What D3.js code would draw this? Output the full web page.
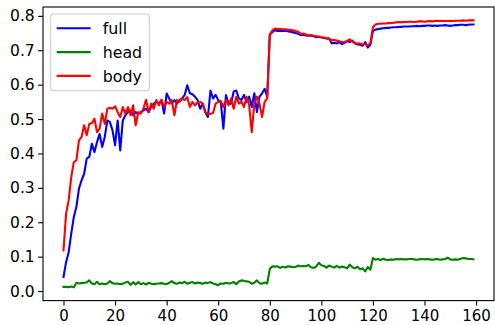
<!DOCTYPE html>
<html>
<head>
<meta charset="utf-8">
<script src="https://cdn.jsdelivr.net/npm/d3@7"></script>
<style>
    body { margin: 0; background: #fff; }
    text { font-family: "DejaVu Sans", sans-serif; }
</style>
</head>
<body>
<div id="chart"></div>
<script>
// series, one value per epoch (0..159)
var full = [
    0.041, 0.084, 0.113, 0.167, 0.215, 0.245, 0.298, 0.322, 0.341, 0.385,
    0.39, 0.428, 0.404, 0.433, 0.457, 0.419, 0.448, 0.496, 0.491, 0.467,
    0.424, 0.496, 0.409, 0.496, 0.511, 0.52, 0.525, 0.511, 0.52, 0.515,
    0.52, 0.525, 0.53, 0.52, 0.535, 0.545, 0.55, 0.545, 0.555, 0.516,
    0.574, 0.56, 0.545, 0.555, 0.545, 0.555, 0.56, 0.57, 0.598, 0.575,
    0.572, 0.565, 0.555, 0.53, 0.545, 0.52, 0.506, 0.583, 0.56, 0.57,
    0.555, 0.55, 0.472, 0.57, 0.545, 0.545, 0.58, 0.583, 0.56, 0.555,
    0.57, 0.55, 0.565, 0.535, 0.575, 0.52, 0.565, 0.575, 0.588, 0.565,
    0.745, 0.753, 0.758, 0.756, 0.757, 0.756, 0.757, 0.755, 0.754, 0.752,
    0.75, 0.748, 0.744, 0.745, 0.743, 0.742, 0.743, 0.741, 0.738, 0.739,
    0.737, 0.736, 0.734, 0.735, 0.72, 0.722, 0.72, 0.723, 0.718, 0.722,
    0.726, 0.724, 0.728, 0.72, 0.717, 0.716, 0.713, 0.724, 0.708, 0.716,
    0.756, 0.76, 0.762, 0.763, 0.764, 0.765, 0.765, 0.766, 0.767, 0.767,
    0.768, 0.768, 0.769, 0.769, 0.769, 0.77, 0.77, 0.771, 0.77, 0.771,
    0.771, 0.772, 0.772, 0.771, 0.772, 0.771, 0.772, 0.772, 0.773, 0.772,
    0.771, 0.772, 0.773, 0.773, 0.774, 0.774, 0.773, 0.774, 0.775, 0.775
];
var head = [
    0.012, 0.012, 0.011, 0.013, 0.011, 0.024, 0.022, 0.023, 0.024, 0.025,
    0.031, 0.022, 0.02, 0.027, 0.02, 0.022, 0.02, 0.022, 0.029, 0.023,
    0.021, 0.022, 0.02, 0.021, 0.025, 0.027, 0.018, 0.026, 0.019, 0.026,
    0.02, 0.023, 0.019, 0.024, 0.021, 0.02, 0.021, 0.022, 0.023, 0.021,
    0.02, 0.024, 0.029, 0.023, 0.021, 0.025, 0.023, 0.027, 0.021, 0.024,
    0.026, 0.022, 0.025, 0.023, 0.021, 0.025, 0.023, 0.026, 0.022, 0.02,
    0.017, 0.022, 0.021, 0.024, 0.022, 0.023, 0.026, 0.02, 0.028, 0.031,
    0.03, 0.028, 0.027, 0.021, 0.024, 0.031, 0.023, 0.021, 0.025, 0.022,
    0.064, 0.072, 0.071, 0.072, 0.067, 0.071, 0.068, 0.072, 0.071, 0.069,
    0.07, 0.074, 0.072, 0.073, 0.072, 0.076, 0.069, 0.067, 0.071, 0.082,
    0.075, 0.073, 0.068, 0.074, 0.071, 0.068, 0.073, 0.068, 0.071, 0.069,
    0.066, 0.077, 0.069, 0.066, 0.071, 0.063, 0.066, 0.057, 0.07, 0.062,
    0.096, 0.091, 0.093, 0.09, 0.094, 0.091, 0.09, 0.092, 0.091, 0.093,
    0.092, 0.093, 0.092, 0.092, 0.093, 0.093, 0.092, 0.091, 0.092, 0.093,
    0.092, 0.093, 0.092, 0.091, 0.092, 0.093, 0.091, 0.092, 0.093, 0.097,
    0.092, 0.091, 0.092, 0.091, 0.094, 0.096, 0.095, 0.093, 0.093, 0.092
];
var body = [
    0.118, 0.225, 0.264, 0.331, 0.375, 0.38, 0.438, 0.448, 0.482, 0.453,
    0.486, 0.488, 0.501, 0.462, 0.472, 0.516, 0.486, 0.53, 0.533, 0.53,
    0.537, 0.52, 0.506, 0.535, 0.516, 0.535, 0.511, 0.54, 0.482, 0.52,
    0.516, 0.53, 0.556, 0.52, 0.545, 0.53, 0.555, 0.54, 0.556, 0.535,
    0.55, 0.545, 0.555, 0.511, 0.555, 0.55, 0.56, 0.555, 0.564, 0.535,
    0.55, 0.54, 0.548, 0.55, 0.545, 0.52, 0.515, 0.515, 0.518, 0.545,
    0.55, 0.552, 0.535, 0.555, 0.54, 0.56, 0.53, 0.565, 0.545, 0.55,
    0.535, 0.565, 0.54, 0.462, 0.545, 0.565, 0.545, 0.506, 0.55, 0.56,
    0.745, 0.758, 0.763, 0.762, 0.762, 0.761, 0.761, 0.76, 0.759, 0.758,
    0.756, 0.754, 0.748, 0.749, 0.746, 0.743, 0.744, 0.742, 0.741, 0.74,
    0.738, 0.737, 0.735, 0.733, 0.729, 0.73, 0.728, 0.726, 0.724, 0.725,
    0.727, 0.732, 0.725, 0.722, 0.719, 0.72, 0.717, 0.718, 0.714, 0.72,
    0.767, 0.775, 0.777, 0.777, 0.778, 0.778, 0.779, 0.779, 0.78, 0.781,
    0.782, 0.781, 0.782, 0.782, 0.783, 0.783, 0.782, 0.783, 0.784, 0.784,
    0.783, 0.784, 0.785, 0.784, 0.785, 0.786, 0.785, 0.786, 0.785, 0.785,
    0.786, 0.785, 0.786, 0.786, 0.786, 0.787, 0.786, 0.787, 0.787, 0.787
];
var seriesNames = ["full", "head", "body"];
var xTicks = [0, 20, 40, 60, 80, 100, 120, 140, 160];
var yTicks = [0.0, 0.1, 0.2, 0.3, 0.4, 0.5, 0.6, 0.7, 0.8];

var colors = {"full": "#0000ff", "head": "#008000", "body": "#ff0000"};
var seriesData = {"full": full, "head": head, "body": body};

// dimensions and margins, matched to the reference
var W = 495, H = 325;
var margin = {top: 7, right: 1, bottom: 24.4, left: 43},
    width = W - margin.left - margin.right,
    height = H - margin.top - margin.bottom;

var svg = d3.select("#chart")
    .append("svg")
    .attr("width", W)
    .attr("height", H)
    .append("g")
    .attr("transform", "translate(" + margin.left + "," + margin.top + ")");

// matplotlib-like 5% padding around the data
var n = full.length;
var xPad = (n - 1) * 0.05;
var x = d3.scaleLinear().domain([-xPad, n - 1 + xPad]).range([0, width]);

var allVals = full.concat(head, body);
var yMin = d3.min(allVals), yMax = d3.max(allVals);
var yPad = (yMax - yMin) * 0.05;
var y = d3.scaleLinear().domain([yMin - yPad, yMax + yPad]).range([height, 0]);

// axes
var xAxis = d3.axisBottom(x).tickValues(xTicks).tickSize(4.9).tickPadding(4.6)
    .tickFormat(d3.format("d"));
var yAxis = d3.axisLeft(y).tickValues(yTicks).tickSize(4.9).tickPadding(3.4)
    .tickFormat(d3.format(".1f"));

var gx = svg.append("g")
    .attr("transform", "translate(0," + height + ")")
    .call(xAxis);
var gy = svg.append("g").call(yAxis);

[gx, gy].forEach(function(g) {
    g.select(".domain").remove();
    g.selectAll(".tick line").attr("stroke", "#000").attr("stroke-width", 1.1);
    g.selectAll(".tick text")
        .attr("fill", "#000")
        .style("font-size", "15.5px");
});
gx.selectAll(".tick text").attr("dy", "0.72em").style("font-size", "15px");

// lines
var line = d3.line()
    .x(function(d, i) { return x(i); })
    .y(function(d) { return y(d); });

seriesNames.forEach(function(name) {
    svg.append("path")
        .datum(seriesData[name])
        .attr("fill", "none")
        .attr("stroke", colors[name])
        .attr("stroke-width", 2.1)
        .attr("stroke-linejoin", "round")
        .attr("stroke-linecap", "square")
        .attr("d", line);
});

// frame
svg.append("rect")
    .attr("x", 0)
    .attr("y", 0)
    .attr("width", width)
    .attr("height", height)
    .attr("fill", "none")
    .attr("stroke", "#000")
    .attr("stroke-width", 1.1);

// legend
var legend = svg.append("g")
    .attr("transform", "translate(" + (50.7 - margin.left) + "," + (14 - margin.top) + ")");

legend.append("rect")
    .attr("width", 98.6)
    .attr("height", 76.7)
    .attr("rx", 3)
    .attr("fill", "#fff")
    .attr("fill-opacity", 0.8)
    .attr("stroke", "#cccccc")
    .attr("stroke-width", 1.1);

var item = legend.selectAll(".item")
    .data(seriesNames)
    .enter().append("g")
    .attr("class", "item")
    .attr("transform", function(d, i) {
        return "translate(0," + (14.3 + i * 23.8) + ")";
    });

item.append("line")
    .attr("x1", 6)
    .attr("x2", 40)
    .attr("stroke", function(d) { return colors[d]; })
    .attr("stroke-width", 2.1);

item.append("text")
    .attr("x", 52)
    .attr("y", 5.8)
    .style("font-size", "15.8px")
    .attr("fill", "#000")
    .text(function(d) { return d; });
</script>
</body>
</html>
